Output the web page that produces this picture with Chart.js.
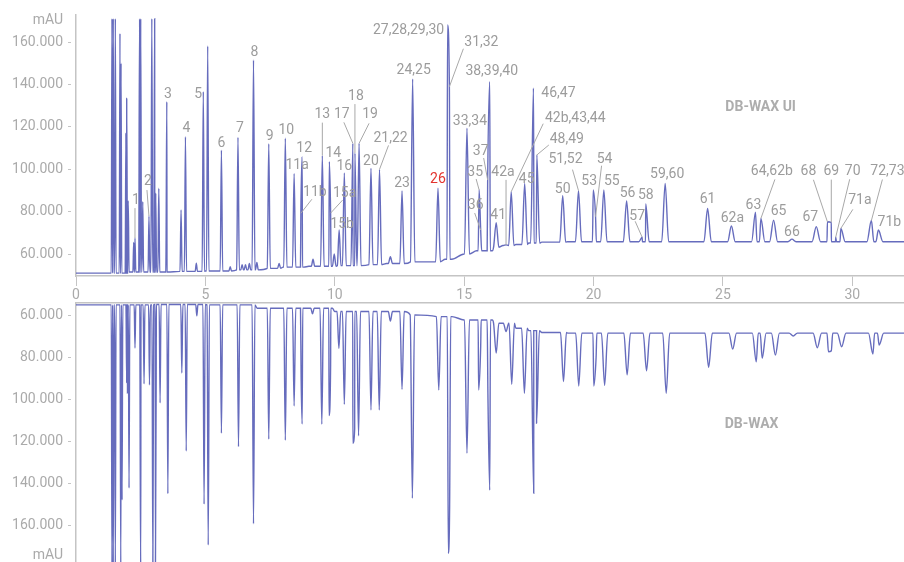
<!DOCTYPE html>
<html>
<head>
<meta charset="utf-8">
<script src="https://cdn.jsdelivr.net/npm/chart.js@4.4.0/dist/chart.umd.min.js"></script>
<style>
  html, body { margin: 0; padding: 0; background: #fff; }
  #wrap { position: relative; width: 904px; height: 562px; overflow: hidden; }
  canvas { position: absolute; left: 0; }
  #topChart { top: 0; }
  #botChart { top: 300px; }
</style>
</head>
<body>
<div id="wrap">
  <canvas id="topChart" width="904" height="300"></canvas>
  <canvas id="botChart" width="904" height="262"></canvas>
</div>
<script>
// x axis ticks (retention time, min) and y ticks (mAU)
var timeTicks = [0, 5, 10, 15, 20, 25, 30];
var signalTicks = [60000, 80000, 100000, 120000, 140000, 160000];

// DB-WAX UI (upper trace): peak retention times and apex heights
var uiRT = [1.39, 1.44, 1.52, 1.70, 1.74, 1.93, 1.96, 2.02, 2.23, 2.28, 2.44, 2.46, 2.50, 2.58, 2.82,
  2.93, 3.04, 3.08, 3.20, 3.48, 3.51, 4.06, 4.23, 4.65, 4.92, 5.09, 5.62, 5.96, 6.26, 6.42, 6.55,
  6.70, 6.86, 6.99, 7.45, 7.85, 8.09, 8.43, 8.69, 8.74, 9.16, 9.52, 9.79, 9.84, 9.98, 10.17, 10.37,
  10.70, 10.78, 10.94, 11.40, 11.73, 12.15, 12.60, 13.01, 13.99, 14.36, 14.43, 15.11, 15.58, 15.64,
  15.91, 15.99, 16.24, 16.62, 16.82, 17.34, 17.68, 17.81, 18.81, 19.42, 19.99, 20.08, 20.40, 21.28,
  21.88, 22.02, 22.77, 24.41, 25.33, 26.26, 26.47, 26.96, 27.67, 28.61, 29.04, 29.19, 29.36, 29.56,
  30.74, 31.01];
var uiHeight = [171000, 171000, 171000, 164000, 150000, 117000, 133400, 85000, 65500, 67500, 117000,
  171000, 171000, 84700, 77900, 171000, 171000, 88700, 91000, 62000, 131800, 80800, 115300, 55700,
  136600, 158100, 109000, 54000, 115000, 55000, 55000, 55500, 151500, 56000, 112000, 55500, 114600,
  98000, 79200, 105900, 57500, 106400, 103500, 79300, 60000, 71300, 98200, 112200, 107600, 112200,
  100400, 99900, 58700, 89700, 142500, 91000, 168000, 138900, 119300, 90200, 71300, 94900, 141300,
  74800, 64300, 89400, 93300, 138200, 106700, 87500, 89900, 90200, 77600, 90200, 85000, 67900, 83600,
  93300, 81500, 73200, 79700, 76800, 76000, 67000, 72900, 75200, 74800, 67900, 72100, 75800, 71300];
// DB-WAX UI baseline drift
var uiBaseT = [0, 1.4, 2, 4, 5, 6, 7, 8, 9, 10, 11, 12, 13, 14, 14.5, 15, 15.5, 16, 16.5, 17, 17.5, 18, 19, 32];
var uiBaseV = [51000, 51000, 51500, 51800, 52000, 52500, 53200, 53800, 54200, 54500, 55000, 55500,
  56300, 57500, 58700, 60000, 61500, 63200, 64000, 64500, 65200, 65600, 65800, 65800];

// DB-WAX (lower, mirrored trace)
var waxRT = [1.39, 1.44, 1.52, 1.73, 1.78, 1.96, 1.99, 2.05, 2.28, 2.48, 2.50, 2.63, 2.84, 2.97, 3.07,
  3.10, 3.25, 3.55, 4.09, 4.26, 4.67, 4.95, 5.11, 5.62, 6.28, 6.86, 7.45, 8.09, 8.43, 8.70, 8.74, 9.14,
  9.50, 9.78, 9.84, 10.16, 10.37, 10.70, 10.77, 10.92, 11.40, 11.72, 12.15, 12.60, 13.00, 14.02, 14.39,
  14.44, 15.11, 15.56, 15.64, 15.92, 15.99, 16.24, 16.62, 16.84, 17.33, 17.69, 17.80, 18.84, 19.43,
  20.01, 20.10, 20.43, 21.30, 22.05, 22.81, 24.45, 25.38, 26.29, 26.52, 27.03, 27.72, 28.65, 29.08,
  29.19, 29.59, 30.80, 31.04];
var waxHeight = [180000, 180000, 180000, 180000, 148000, 92000, 96900, 142300, 75300, 120100, 180000,
  92500, 93000, 180000, 180000, 87300, 101600, 145000, 87300, 124600, 59900, 150000, 169600, 116100,
  122500, 159400, 118900, 119400, 103100, 89000, 111700, 59000, 111800, 107700, 83400, 75500, 102300,
  120900, 114000, 117300, 105000, 105000, 62400, 95100, 147200, 95400, 173600, 150400, 125700, 95400,
  74700, 97800, 143300, 77800, 67500, 92700, 97000, 144800, 111300, 91400, 93500, 93500, 80000, 93200,
  88200, 86200, 97000, 84500, 75800, 81900, 80200, 78700, 69600, 75200, 77100, 76700, 74700, 78200, 73900];
var waxBaseT = [0, 1.4, 3, 5, 7, 10, 13, 14, 15, 16, 17, 17.5, 18, 19, 32];
var waxBaseV = [54700, 54700, 54500, 54700, 56300, 57900, 59500, 60300, 61900, 63500, 65900, 67000,
  67900, 68200, 68200];

// peak labels: text, retention time of the peak, label offset dx/dy (px), leader start lx/ly (px)
var peakLabels = [
  ["1", 2.28, 1, -38, -1, 8], ["2", 2.82, -1, -35, -1, 9], ["3", 3.51, 1, -7], ["4", 4.23, 1, -8],
  ["5", 4.92, -5, 3], ["6", 5.62, 0, -7], ["7", 6.26, 2, -9], ["8", 6.86, 1, -8], ["9", 7.45, 1, -7],
  ["10", 8.09, 1, -8], ["11a", 8.43, 3, -8], ["11b", 8.69, 14, -21, -3, 7], ["12", 8.74, 2, -8],
  ["13", 9.52, 0, -41, 0, 8], ["14", 9.79, 4, -8], ["15a", 9.84, 14, -20, -2, 7], ["15b", 10.17, 3, -6],
  ["16", 10.37, 0, -7], ["17", 10.70, -11, -29, 2, 8], ["18", 10.78, 1, -57, -1, 8],
  ["19", 10.94, 11, -29, -1, 9], ["20", 11.40, 0, -7], ["21,22", 11.73, 11, -31, -2, 7],
  ["23", 12.60, 0, -8], ["24,25", 13.01, 1, -9], ["26", 13.99, 0, -9],
  ["27,28,29,30", 14.36, -39, 5], ["31,32", 14.43, 32, -44, -18, 6], ["33,34", 15.11, 3, -7],
  ["35", 15.58, -4, -17, 1, 6], ["36", 15.64, -5, -25, -1, 8], ["37", 15.91, -7, -29, 3, 7],
  ["38,39,40", 15.99, 2, -10], ["41", 16.24, 2, -7], ["42a", 16.62, -3, -72, 3, 7],
  ["42b,43,44", 16.82, 64, -73, -32, 5], ["45", 17.34, 2, -4], ["46,47", 17.68, 25, 5],
  ["48,49", 17.81, 30, -15, -18, 5], ["50", 18.81, 0, -6], ["51,52", 19.42, -13, -31, 7, 10],
  ["53", 19.99, -4, -8], ["54", 20.08, 9, -57, -3, 6], ["55", 20.40, 8, -8], ["56", 21.28, 1, -8],
  ["57", 21.88, -5, -21, -2, 5], ["58", 22.02, 0, -8], ["59,60", 22.77, 2, -9], ["61", 24.41, 0, -9],
  ["62a", 25.33, 1, -8], ["63", 26.26, -2, -7], ["64,62b", 26.47, 11, -47, 3, 8], ["65", 26.96, 5, -9],
  ["66", 27.67, 0, -7], ["67", 28.61, -6, -9], ["68", 29.04, -19, -50, 5, 8], ["69", 29.19, 0, -51, 0, 8],
  ["70", 29.36, 17, -66, -3, 8], ["71a", 29.56, 19, -28, -7, 9], ["72,73", 30.74, 16, -49, -5, 8],
  ["71b", 31.01, 11, -8]
];
var redLabel = "26";

var lineColor = 'rgba(68, 76, 174, 0.82)';
var axisColor = '#c4c4c4';
var tickColor = '#aaaaaa';
var labelColor = '#9c9c9c';

Chart.defaults.font.family = 'Roboto';
Chart.defaults.font.size = 14;

// peak half width grows with retention time
function halfWidth(t) { return 0.02 + 0.005 * t; }

function buildTrace(rt, h, baseT, baseV) {
  var pts = [];
  function baseAt(t) {
    var v = baseV[0];
    for (var k = 0; k < baseT.length; k++) if (baseT[k] <= t) v = baseV[k];
    return v;
  }
  rt.forEach(function (t, i) {
    var w = halfWidth(t), b = baseAt(t);
    pts.push({ x: t - w, y: b }, { x: t, y: h[i] }, { x: t + w, y: b });
  });
  baseT.forEach(function (t, k) {
    var inside = rt.some(function (p) { return Math.abs(p - t) < halfWidth(p) + 0.01; });
    if (!inside) pts.push({ x: t, y: baseV[k] });
  });
  pts.sort(function (a, b) { return a.x - b.x; });
  return pts;
}

function fmt(v) { return (v / 1000).toFixed(3); }

function yAxis(min, max, reverse) {
  return {
    type: 'linear', min: min, max: max, reverse: reverse,
    afterBuildTicks: function (s) { s.ticks = signalTicks.map(function (v) { return { value: v }; }); },
    afterFit: function (s) { s.width = 76; s.paddingTop = 0; s.paddingBottom = 0; },
    ticks: { color: tickColor, padding: 5, callback: function (v) { return fmt(v); } },
    grid: { drawOnChartArea: false, tickLength: 8, color: axisColor, tickBorderDash: [3, 10] },
    border: { color: axisColor, width: 1.5 }
  };
}

var textPlugin = {
  id: 'texts',
  afterDatasetsDraw: function (chart, args, opts) {
    var ctx = chart.ctx, x = chart.scales.x, y = chart.scales.y;
    ctx.save();
    ctx.textAlign = 'right';
    ctx.textBaseline = 'middle';
    ctx.fillStyle = tickColor;
    ctx.font = '14px Roboto';
    ctx.fillText('mAU', y.right - 13, opts.mauY);
    ctx.textAlign = 'center';
    ctx.font = 'bold 14px Roboto';
    ctx.fillStyle = '#adadad';
    ctx.fillText(opts.title, x.getPixelForValue(opts.titleX), y.getPixelForValue(opts.titleY));
    if (opts.labels) {
      ctx.font = '14px Roboto';
      ctx.lineWidth = 1;
      ctx.strokeStyle = '#a8a8a8';
      peakLabels.forEach(function (l) {
        var i = uiRT.indexOf(l[1]);
        var px = x.getPixelForValue(l[1]), py = y.getPixelForValue(uiHeight[i]);
        var lxp = px + l[2], lyp = py + l[3];
        if (l.length > 4) {
          ctx.beginPath();
          ctx.moveTo(lxp + l[4], lyp + l[5]);
          ctx.lineTo(px, py);
          ctx.stroke();
        }
        ctx.fillStyle = l[0] === redLabel ? '#e3342f' : labelColor;
        ctx.fillText(l[0], lxp, lyp);
      });
    }
    ctx.restore();
  }
};

new Chart(document.getElementById('topChart'), {
  type: 'line',
  data: { datasets: [{ data: buildTrace(uiRT, uiHeight, uiBaseT, uiBaseV), borderColor: lineColor,
    borderWidth: 1.4, pointRadius: 0, fill: false, cubicInterpolationMode: 'monotone' }] },
  options: {
    responsive: false, animation: false, devicePixelRatio: 1,
    layout: { padding: { top: 15, right: 0, left: 0, bottom: 0 } },
    plugins: { legend: { display: false }, tooltip: { enabled: false },
      texts: { title: 'DB-WAX UI', titleX: 26.46, titleY: 129300, mauY: 20, labels: true } },
    scales: {
      x: {
        type: 'linear', min: 0, max: 32, position: 'bottom',
        afterBuildTicks: function (s) { s.ticks = timeTicks.map(function (v) { return { value: v }; }); },
        afterFit: function (s) { s.height = 24; s.paddingLeft = 0; s.paddingRight = 0; },
        ticks: { color: tickColor, padding: 1, maxRotation: 0 },
        grid: { drawOnChartArea: false, tickLength: 10, color: axisColor },
        border: { color: axisColor, width: 1.5 }
      },
      y: yAxis(49623, 172736, false)
    }
  },
  plugins: [textPlugin]
});

new Chart(document.getElementById('botChart'), {
  type: 'line',
  data: { datasets: [{ data: buildTrace(waxRT, waxHeight, waxBaseT, waxBaseV), borderColor: lineColor,
    borderWidth: 1.4, pointRadius: 0, fill: false, cubicInterpolationMode: 'monotone' }] },
  options: {
    responsive: false, animation: false, devicePixelRatio: 1,
    layout: { padding: 0 },
    plugins: { legend: { display: false }, tooltip: { enabled: false },
      texts: { title: 'DB-WAX', titleX: 26.11, titleY: 111700, mauY: 255, labels: false } },
    scales: {
      x: {
        type: 'linear', min: 0, max: 32, position: 'top',
        afterFit: function (s) { s.height = 3; s.paddingLeft = 0; s.paddingRight = 0; },
        ticks: { display: false },
        grid: { display: false },
        border: { display: true, color: axisColor, width: 1.5 }
      },
      y: yAxis(53800, 177700, true)
    }
  },
  plugins: [textPlugin]
});
</script>
</body>
</html>
